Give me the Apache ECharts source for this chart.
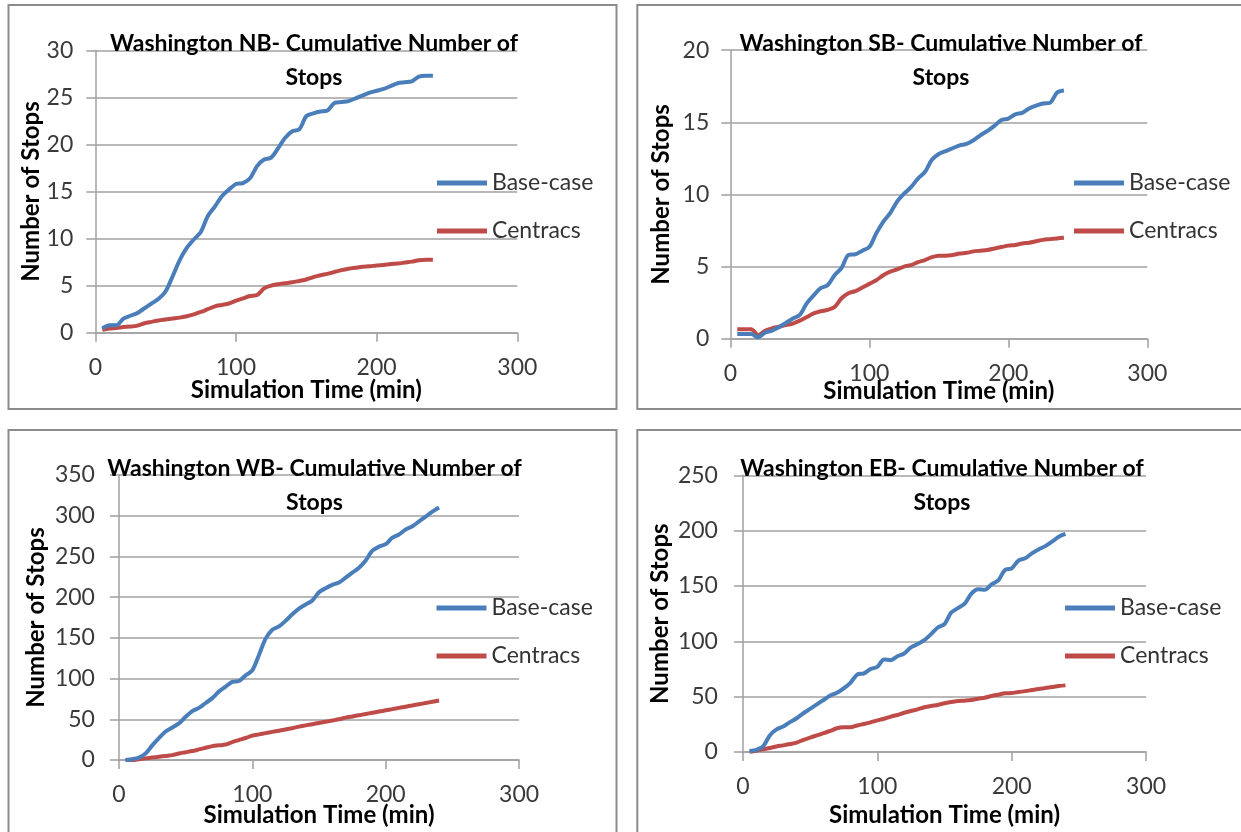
<!DOCTYPE html>
<html>
<head>
<meta charset="utf-8">
<title>Washington - Cumulative Number of Stops</title>
<script src="https://cdn.jsdelivr.net/npm/echarts@6/dist/echarts.min.js"></script>
<style>
  html, body { margin: 0; padding: 0; background: #fff; }
  #chart { width: 1241px; height: 832px; }
</style>
</head>
<body>
<div id="chart"></div>
<script>
// simulation time (min)
const minutes = [5, 10, 15, 20, 25, 30, 35, 40, 45, 50, 55, 60, 65, 70, 75, 80,
  85, 90, 95, 100, 105, 110, 115, 120, 125, 130, 135, 140, 145, 150, 155, 160,
  165, 170, 175, 180, 185, 190, 195, 200, 205, 210, 215, 220, 225, 230, 235, 240];

const seriesNames = ['Base-case', 'Centracs'];

// NB
const nbBase = [0.45, 0.8, 0.8, 1.5, 1.8, 2.1, 2.6, 3.1, 3.6, 4.4, 6.0, 7.7, 9.0, 9.9, 10.7, 12.4,
  13.4, 14.5, 15.2, 15.8, 15.9, 16.4, 17.7, 18.4, 18.6, 19.6, 20.7, 21.4, 21.6, 23.0, 23.3, 23.5,
  23.6, 24.4, 24.5, 24.6, 24.9, 25.2, 25.5, 25.7, 25.9, 26.2, 26.5, 26.6, 26.7, 27.2, 27.3, 27.3];
const nbCent = [0.3, 0.45, 0.5, 0.6, 0.65, 0.75, 1.0, 1.15, 1.3, 1.4, 1.5, 1.6, 1.75, 1.95, 2.2, 2.5,
  2.8, 2.95, 3.1, 3.4, 3.65, 3.9, 4.0, 4.7, 5.0, 5.15, 5.25, 5.35, 5.5, 5.65, 5.9, 6.1,
  6.25, 6.45, 6.65, 6.8, 6.9, 7.0, 7.05, 7.15, 7.2, 7.3, 7.35, 7.45, 7.55, 7.7, 7.75, 7.75];

// SB
const sbBase = [0.32, 0.32, 0.32, 0.1, 0.42, 0.55, 0.8, 1.1, 1.4, 1.65, 2.45, 3.0, 3.5, 3.7, 4.4, 4.9,
  5.8, 5.85, 6.1, 6.35, 7.3, 8.1, 8.7, 9.5, 10.05, 10.5, 11.1, 11.55, 12.4, 12.8, 13.0, 13.2,
  13.4, 13.5, 13.75, 14.1, 14.4, 14.75, 15.15, 15.25, 15.55, 15.65, 15.95, 16.15, 16.3, 16.35, 17.05, 17.2];
const sbCent = [0.65, 0.65, 0.65, 0.25, 0.55, 0.72, 0.83, 0.95, 1.05, 1.25, 1.5, 1.75, 1.9, 2.0, 2.2, 2.8,
  3.15, 3.3, 3.55, 3.8, 4.05, 4.4, 4.65, 4.8, 5.0, 5.1, 5.3, 5.45, 5.65, 5.75, 5.75, 5.8,
  5.9, 5.95, 6.05, 6.1, 6.15, 6.25, 6.35, 6.45, 6.5, 6.6, 6.65, 6.75, 6.85, 6.9, 6.95, 7.0];

// WB
const wbBase = [0, 1, 3, 8, 18, 27, 35, 40, 45, 53, 60, 64, 70, 76, 84, 90,
  96, 97, 104, 110, 129, 149, 160, 164, 171, 179, 186, 191, 196, 206, 211, 215,
  218, 224, 230, 236, 245, 257, 262, 265, 273, 277, 283, 287, 293, 299, 305, 310];
const wbCent = [0, 0, 1, 2, 3, 4, 5, 6, 8, 9.5, 11, 13, 15, 17, 18, 19,
  22, 24.5, 27, 30, 31.5, 33, 34.5, 36, 37.5, 39, 41, 42.5, 44, 45.5, 47, 48.5,
  50, 52, 53.5, 55, 56.5, 58, 59.5, 61, 62.5, 64, 65.5, 67, 68.5, 70, 71.5, 73];

// EB
const ebBase = [1, 2, 5, 15, 20.5, 23, 27, 30.5, 35, 39, 43, 47, 51, 53.5, 57.5, 62.5,
  70, 71, 75, 77, 83.5, 83, 86.5, 89, 94.5, 97.5, 101, 106.5, 112.5, 115.5, 126, 130,
  134, 143, 147, 146.5, 151.5, 155, 164.5, 166, 173, 175, 179.5, 183, 186, 190, 194.5, 197];
const ebCent = [0.3, 1.2, 2.5, 3.6, 5, 6, 7.2, 8.5, 11, 13, 15, 17, 19, 21.5, 22.3, 22.3,
  24, 25.3, 26.8, 28.6, 30, 32, 33.4, 35.5, 37, 38.5, 40.4, 41.6, 42.5, 44, 45.2, 46,
  46.4, 47, 48.2, 49, 50.6, 51.8, 53, 53.3, 54.2, 55, 56, 57, 57.8, 58.7, 59.6, 60.2];

const titles = [
  'Washington NB- Cumulative Number of\nStops',
  'Washington SB- Cumulative Number of\nStops',
  'Washington WB- Cumulative Number of\nStops',
  'Washington EB- Cumulative Number of\nStops'
];
const yMaxes = [30, 20, 350, 250];
const ySteps = [5, 5, 50, 50];
const xMax = 300;
const xStep = 100;

const FONT = 'Lato';
const BLUE = '#4a7ebb';
const RED = '#be4b48';
const GRAY = '#a0a0a0';

// layout of each panel (pixels)
const panels = [
  { base: nbBase, cent: nbCent, grid: [95.3, 50.3, 422, 282.4], titleAt: [314, 26.3],
    legendAt: [437, 169], xGap: 45, yGap: 51, labelGap: 22, box: [8.5, 5, 608, 404] },
  { base: sbBase, cent: sbCent, grid: [730.3, 50.1, 417, 288.6], titleAt: [941, 26.3],
    legendAt: [1074, 169], xGap: 40, yGap: 56, labelGap: 21, box: [637.3, 5, 640, 404] },
  { base: wbBase, cent: wbCent, grid: [118.9, 475, 400.2, 285], titleAt: [314.5, 451.3],
    legendAt: [436.5, 594], xGap: 42, yGap: 70, labelGap: 24, box: [8.5, 430, 608, 480] },
  { base: ebBase, cent: ebCent, grid: [742.9, 475.3, 403.2, 276.7], titleAt: [942, 451.3],
    legendAt: [1065, 594], xGap: 50, yGap: 70, labelGap: 25, box: [637.3, 430, 640, 480] }
];

const toPairs = vals => minutes.map((m, i) => [m, vals[i]]);

const chart = echarts.init(document.getElementById('chart'), null, { renderer: 'canvas' });

const nameStyle = { fontFamily: FONT, fontWeight: 'bold', fontSize: 24, lineHeight: 26, color: '#000' };

const option = {
  animation: false,
  backgroundColor: '#fff',
  textStyle: { fontFamily: FONT },
  graphic: panels.map(p => ({
    type: 'rect',
    silent: true,
    shape: { x: p.box[0], y: p.box[1], width: p.box[2], height: p.box[3] },
    style: { fill: 'none', stroke: '#8c8c8c', lineWidth: 2 }
  })),
  title: panels.map((p, i) => ({
    text: titles[i],
    left: p.titleAt[0],
    top: p.titleAt[1],
    textAlign: 'center',
    padding: 0,
    textStyle: { fontFamily: FONT, fontWeight: 'bold', fontSize: 23, lineHeight: 34, color: '#000' }
  })),
  legend: panels.map(p => ({
    data: seriesNames,
    orient: 'vertical',
    left: p.legendAt[0],
    top: p.legendAt[1],
    padding: 0,
    itemGap: 20,
    itemWidth: 50,
    itemHeight: 5,
    icon: 'rect',
    textStyle: { fontFamily: FONT, fontSize: 23, lineHeight: 28, color: '#333' }
  })),
  grid: panels.map(p => ({
    left: p.grid[0], top: p.grid[1], width: p.grid[2], height: p.grid[3], containLabel: false
  })),
  xAxis: panels.map((p, i) => ({
    type: 'value',
    gridIndex: i,
    min: 0,
    max: xMax,
    interval: xStep,
    name: 'Simulation Time (min)',
    nameLocation: 'middle',
    nameGap: p.xGap,
    nameMoveOverlap: false,
    nameTextStyle: nameStyle,
    axisLine: { show: true, lineStyle: { color: GRAY, width: 1.5 } },
    axisTick: { show: true, length: 9, lineStyle: { color: GRAY, width: 1.5 } },
    axisLabel: { margin: 23, fontFamily: FONT, fontSize: 23, color: '#3a3a3a' },
    splitLine: { show: false }
  })),
  yAxis: panels.map((p, i) => ({
    type: 'value',
    gridIndex: i,
    min: 0,
    max: yMaxes[i],
    interval: ySteps[i],
    name: 'Number of Stops',
    nameLocation: 'middle',
    nameGap: p.yGap,
    nameMoveOverlap: false,
    nameTextStyle: nameStyle,
    axisLine: { show: true, lineStyle: { color: GRAY, width: 1.5 } },
    axisTick: { show: true, length: 9, lineStyle: { color: GRAY, width: 1.5 } },
    axisLabel: { margin: p.labelGap, fontFamily: FONT, fontSize: 23, color: '#3a3a3a' },
    splitLine: { show: true, lineStyle: { color: GRAY, width: 1.5 } }
  })),
  series: panels.flatMap((p, i) => [
    {
      name: seriesNames[0], type: 'line', xAxisIndex: i, yAxisIndex: i,
      data: toPairs(p.base), showSymbol: false, smooth: 0.3,
      lineStyle: { color: BLUE, width: 4 }, itemStyle: { color: BLUE }, z: 3
    },
    {
      name: seriesNames[1], type: 'line', xAxisIndex: i, yAxisIndex: i,
      data: toPairs(p.cent), showSymbol: false, smooth: 0.3,
      lineStyle: { color: RED, width: 4 }, itemStyle: { color: RED }, z: 2
    }
  ])
};

chart.setOption(option);
</script>
</body>
</html>
